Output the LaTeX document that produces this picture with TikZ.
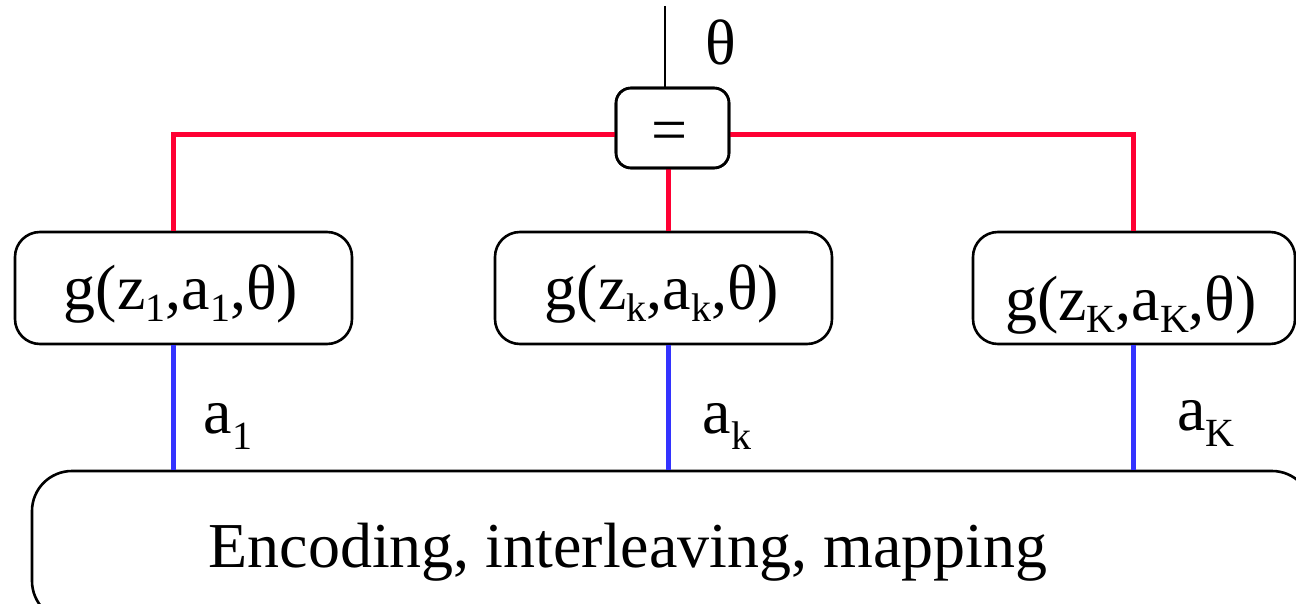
\documentclass[tikz,border=0pt]{standalone}
\usepackage{fontspec}
\setmainfont{Liberation Serif}
\definecolor{lred}{RGB}{255,0,51}
\definecolor{lblue}{RGB}{51,51,255}
\newcommand\subidx[2][12pt]{\raisebox{-#1}{\fontsize{40}{40}\selectfont #2}}
\tikzset{
  rbox/.style={draw=black, line width=2.6pt, rounded corners=#1, inner sep=0pt},
  rbox/.default=25pt,
  redline/.style={draw=lred, line width=5pt},
  blueline/.style={draw=lblue, line width=5pt},
  txt/.style={font=\fontsize{64}{64}\selectfont, inner sep=0pt, anchor=base},
}
\begin{document}
\begin{tikzpicture}[x=1pt,y=-1pt]
\useasboundingbox (0,0) rectangle (1296,604);
\clip (0,0) rectangle (1296,604);
\fill[white] (0,0) rectangle (1296,604);
% connector columns
\coordinate (top) at (665,6);
\coordinate (mid) at (668,135);
\coordinate (r1) at (173,135);
\coordinate (r3) at (1133,135);
% equality node
\node[rbox=15pt, minimum width=113pt, minimum height=80pt] (eq) at (672.5,128) {};
\node[txt] (eqt) at (670,152) {=};
\draw[line width=2.6pt] (top) -- (top |- eq.north);
\node[txt] (theta) at (721,65) {θ};
% function nodes
\node[rbox, minimum width=337pt, minimum height=112pt] (g1) at (183.5,288) {};
\node[rbox, minimum width=337pt, minimum height=112pt] (g2) at (663.5,288) {};
\node[rbox, minimum width=322pt, minimum height=112pt] (g3) at (1134,288) {};
\node[txt] (g1t) at (181,309) {g(z\subidx{1},a\subidx{1},θ)};
\node[txt] (g2t) at (662,309) {g(z\subidx{k},a\subidx{k},θ)};
\node[txt] (g3t) at (1131,320) {g(z\subidx{K},a\subidx{K},θ)};
% bottom node
\node[rbox=40pt, minimum width=1280pt, minimum height=150pt] (enc) at (672,546) {};
\node[txt] (enct) at (628,567) {Encoding, interleaving, mapping};
% red connectors
\draw[redline] (eq.west |- r1) -- (r1) -- (r1 |- g1.north);
\draw[redline] (eq.east |- r3) -- (r3) -- (r3 |- g3.north);
\draw[redline] (eq.south -| mid) -- (mid |- g2.north);
% blue connectors
\draw[blueline] (r1 |- g1.south) -- (r1 |- enc.north);
\draw[blueline] (mid |- g2.south) -- (mid |- enc.north);
\draw[blueline] (r3 |- g3.south) -- (r3 |- enc.north);
% redraw box outlines over connector ends
\node[rbox=15pt, minimum width=113pt, minimum height=80pt] at (eq) {};
% labels
\node[txt] (a1) at (228,433) {a\subidx[16pt]{1}};
\node[txt] (ak) at (727,433) {a\subidx[16pt]{k}};
\node[txt] (aK) at (1206,430) {a\subidx[16pt]{K}};
\end{tikzpicture}
\end{document}
